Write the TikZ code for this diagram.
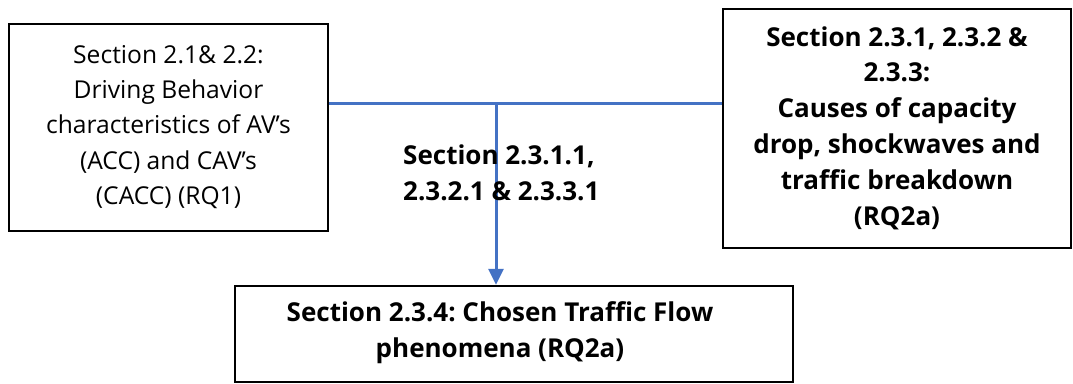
\documentclass[tikz,border=0pt]{standalone}
\usepackage{fontspec}
\setmainfont{Open Sans}
\usetikzlibrary{arrows.meta}
\definecolor{conblue}{HTML}{4472C4}
\tikzset{
  box/.style={draw=black, line width=2.4pt, rectangle, inner sep=0pt},
  txt/.style={font=\fontsize{24.6}{35.3}\selectfont\frenchspacing, align=center, inner sep=0pt},
  btxt/.style={font=\fontsize{26}{35.8}\selectfont\bfseries\frenchspacing, align=center, inner sep=0pt},
  conn/.style={draw=conblue, line width=3pt},
  arr/.style={conn, -{Triangle[width=15pt,length=16pt]}},
}
\begin{document}
\begin{tikzpicture}[x=1pt,y=-1pt]
\useasboundingbox (0,0) rectangle (1073,383);
% boxes
\node[box, minimum width=319pt, minimum height=207pt] (left) at (168.5,127.5) {};
\node[txt] (lefttxt) at (168.5,127) {Section 2.1\& 2.2:\\Driving Behavior\\characteristics of AV’s\\(ACC) and CAV’s\\(CACC) (RQ1)};
\node[box, minimum width=348pt, minimum height=239pt] (right) at (897,128.5) {};
\node[btxt] (righttxt) at (897,128) {Section 2.3.1, 2.3.2 \&\\2.3.3:\\Causes of capacity\\drop, shockwaves and\\traffic breakdown\\(RQ2a)};
\node[box, minimum width=558pt, minimum height=96pt] (bot) at (514,334) {};
\node[btxt] (bottxt) at (500,333) {Section 2.3.4: Chosen Traffic Flow\\phenomena (RQ2a)};
% connectors
\coordinate (j) at (496,103);
\draw[conn] (left.east |- j) -- (right.west |- j);
\draw[arr] (j) -- (j |- bot.north);
% middle label
\node[btxt, align=left, anchor=north west] (midlbl) at (403,145) {Section 2.3.1.1,\\2.3.2.1 \& 2.3.3.1};
\end{tikzpicture}
\end{document}
